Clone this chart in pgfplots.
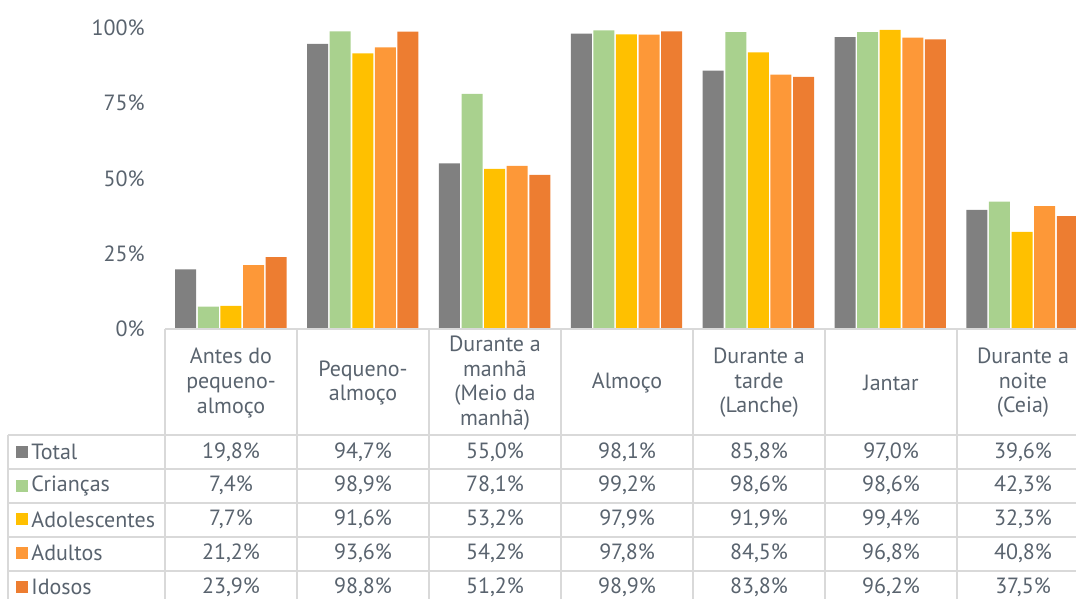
\documentclass[border=0pt]{standalone}
\usepackage{fontspec}
\setmainfont{PT Sans}
\usepackage{pgfplots}
\usepackage{pgfplotstable}
\pgfplotsset{compat=1.18}

\definecolor{txt}{RGB}{89,99,110}
\definecolor{gridc}{RGB}{217,217,217}
\definecolor{cTotal}{RGB}{128,128,128}
\definecolor{cCri}{RGB}{169,209,142}
\definecolor{cAdo}{RGB}{255,192,0}
\definecolor{cAdu}{RGB}{253,152,56}
\definecolor{cIdo}{RGB}{237,125,49}

% one row per meal, one column per group (in %)
\pgfplotstableread{
x total criancas adolescentes adultos idosos
0 19.8 7.4 7.7 21.2 23.9
1 94.7 98.9 91.6 93.6 98.8
2 55.0 78.1 53.2 54.2 51.2
3 98.1 99.2 97.9 97.8 98.9
4 85.8 98.6 91.9 84.5 83.8
5 97.0 98.6 99.4 96.8 96.2
6 39.6 42.3 32.3 40.8 37.5
}\meals

\newcommand{\lbl}{\fontsize{11}{12.3}\selectfont}

\begin{document}
\begin{tikzpicture}
\begin{axis}[
    at={(0,0)}, anchor=south west,
    scale only axis,
    width=461.5pt, height=150.5pt,
    xmin=-0.5, xmax=6.5, ymin=0, ymax=100,
    ybar=0.8pt, bar width=10.5pt,
    xtick=\empty,
    ytick={0,25,50,75,100},
    yticklabel={\pgfmathprintnumber[assume math mode=true]{\tick}\%},
    yticklabel style={anchor=east, inner sep=0pt, xshift=-10pt, text=txt, font=\lbl},
    axis line style={draw=none},
    major tick length=0pt,
    clip=false,
]
\addplot[fill=cTotal, draw=none] table[x=x, y=total] {\meals};
\addplot[fill=cCri, draw=none] table[x=x, y=criancas] {\meals};
\addplot[fill=cAdo, draw=none] table[x=x, y=adolescentes] {\meals};
\addplot[fill=cAdu, draw=none] table[x=x, y=adultos] {\meals};
\addplot[fill=cIdo, draw=none] table[x=x, y=idosos] {\meals};
\end{axis}

% data table below the plot, in pixel units of the reference
\begin{scope}[x=0.5pt, y=-0.5pt, shift={(-82.5pt,164.5pt)},
    every node/.style={text=txt, font=\lbl, inner sep=0pt}]
  \draw[gridc, line width=0.8pt] (165,329) -- (1095,329);
  \foreach \yy in {435,469,503,537,571,605}
    \draw[gridc, line width=0.8pt] (8,\yy) -- (1095,\yy);
  \draw[gridc, line width=0.8pt] (8,435) -- (8,610);
  \foreach \i in {0,...,7}
    \draw[gridc, line width=0.8pt] ({165+132*\i},329) -- ({165+132*\i},610);

  \foreach \i/\t in {0/{Antes do\\pequeno-\\almoço}, 1/{Pequeno-\\almoço},
      2/{Durante a\\manhã\\(Meio da\\manhã)}, 3/{Almoço},
      4/{Durante a\\tarde\\(Lanche)}, 5/{Jantar}, 6/{Durante a\\noite\\(Ceia)}}
    \node[align=center] at ({231+132*\i},383) {\t};

  \foreach \s/\k/\c/\n in {total/0/cTotal/Total, criancas/1/cCri/Crianças,
      adolescentes/2/cAdo/Adolescentes, adultos/3/cAdu/Adultos, idosos/4/cIdo/Idosos} {
    \fill[\c] (16,{452+33.75*\k-6}) rectangle (28,{452+33.75*\k+6});
    \node[anchor=west] at (31,{452+33.75*\k}) {\n};
    \foreach \i in {0,...,6} {
      \pgfplotstablegetelem{\i}{\s}\of\meals
      \node at ({231+132*\i},{452+33.75*\k})
        {\pgfmathprintnumber[fixed, fixed zerofill, precision=1, use comma,
          assume math mode=true]{\pgfplotsretval}\%};
    }
  }

  \pgfresetboundingbox
  \path[use as bounding box] (0,0) rectangle (1076,599);
\end{scope}
\end{tikzpicture}
\end{document}
